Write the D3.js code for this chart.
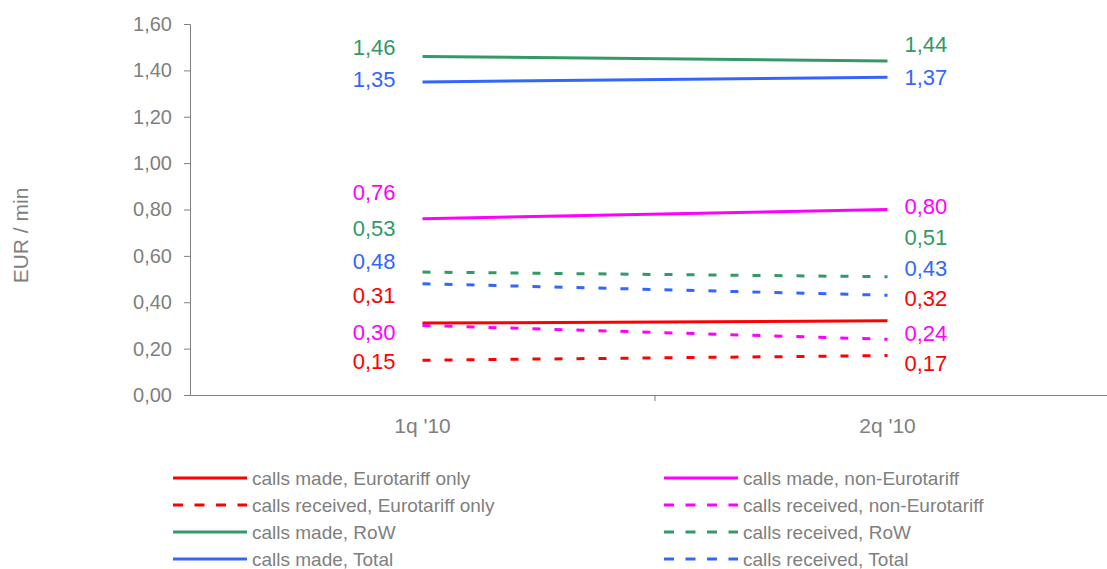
<!DOCTYPE html>
<html>
<head>
<meta charset="utf-8">
<title>EUR / min</title>
<script src="https://cdn.jsdelivr.net/npm/d3@7"></script>
<style>
  body { margin: 0; background: #fff; }
  svg text { font-family: "Liberation Sans", Arial, sans-serif; }
</style>
</head>
<body>
<div id="chart"></div>
<script>
// data
var quarters = ["1q '10", "2q '10"];
var yTicks = [0, 0.2, 0.4, 0.6, 0.8, 1.0, 1.2, 1.4, 1.6];

var madeEuro = [0.31, 0.32];
var recvEuro = [0.15, 0.17];
var madeRow = [1.46, 1.44];
var madeTotal = [1.35, 1.37];
var madeNonEuro = [0.76, 0.80];
var recvNonEuro = [0.30, 0.24];
var recvRow = [0.53, 0.51];
var recvTotal = [0.48, 0.43];

var series = [
  {name: "calls made, Eurotariff only", values: madeEuro, color: "#ff0000", dash: false, dy: [-28, -23]},
  {name: "calls received, Eurotariff only", values: recvEuro, color: "#ff0000", dash: true, dy: [1, 8]},
  {name: "calls made, RoW", values: madeRow, color: "#339966", dash: false, dy: [-9, -17]},
  {name: "calls made, Total", values: madeTotal, color: "#3366ff", dash: false, dy: [-3, 0]},
  {name: "calls made, non-Eurotariff", values: madeNonEuro, color: "#ff00ff", dash: false, dy: [-26, -3]},
  {name: "calls received, non-Eurotariff", values: recvNonEuro, color: "#ff00ff", dash: true, dy: [7, -6]},
  {name: "calls received, RoW", values: recvRow, color: "#339966", dash: true, dy: [-44, -39]},
  {name: "calls received, Total", values: recvTotal, color: "#3366ff", dash: true, dy: [-22, -27]}
];

var W = 1107, H = 569;
var svg = d3.select("#chart").append("svg").attr("width", W).attr("height", H);

var mLeft = 190, mRight = 1120, mTop = 24, mBottom = 395;
var grey = "#808080";

var x = d3.scaleBand().domain(quarters).range([mLeft, mRight]);
var y = d3.scaleLinear().domain([0, 1.6]).range([mBottom, mTop]);
var fmt = function(v) { return d3.format(".2f")(v).replace(".", ","); };

// y axis
var yAxis = svg.append("g").attr("transform", "translate(" + mLeft + ",0)")
  .call(d3.axisLeft(y).tickValues(yTicks).tickFormat(fmt).tickSize(6).tickPadding(12));
yAxis.selectAll("path, line").attr("stroke", grey);
yAxis.selectAll("text").attr("fill", grey).style("font-size", "20px");

// x axis
var xAxis = svg.append("g").attr("transform", "translate(0," + mBottom + ")")
  .call(d3.axisBottom(x).tickSize(0).tickPadding(23));
xAxis.select("path").attr("stroke", grey);
xAxis.selectAll("text").attr("fill", grey).style("font-size", "21px");
// tick between categories
svg.append("line")
  .attr("x1", x(quarters[1])).attr("x2", x(quarters[1]))
  .attr("y1", mBottom).attr("y2", mBottom + 6)
  .attr("stroke", grey);

svg.append("text")
  .attr("transform", "translate(28," + ((mTop + mBottom) / 2 + 26) + ") rotate(-90)")
  .attr("text-anchor", "middle")
  .attr("fill", grey).style("font-size", "21px")
  .text("EUR / min");

var cx = function(i) { return x(quarters[i]) + x.bandwidth() / 2; };
var line = d3.line().x(function(d, i) { return cx(i); }).y(function(d) { return y(d); });

series.forEach(function(s) {
  svg.append("path")
    .attr("d", line(s.values))
    .attr("fill", "none")
    .attr("stroke", s.color)
    .attr("stroke-width", 3)
    .attr("stroke-dasharray", s.dash ? "8,14" : null);

  s.values.forEach(function(v, i) {
    svg.append("text")
      .attr("x", i == 0 ? cx(i) - 27 : cx(i) + 17)
      .attr("y", y(v) + s.dy[i])
      .attr("dy", "0.35em")
      .attr("text-anchor", i == 0 ? "end" : "start")
      .attr("fill", s.color)
      .style("font-size", "22px")
      .text(fmt(v));
  });
});

// legend
var legend = svg.append("g");
series.forEach(function(s, k) {
  var col = Math.floor(k / 4), row = k % 4;
  var lx = col == 0 ? 173 : 664;
  var ly = 478 + row * 27;
  legend.append("line")
    .attr("x1", lx).attr("x2", lx + 74)
    .attr("y1", ly).attr("y2", ly)
    .attr("stroke", s.color).attr("stroke-width", 3)
    .attr("stroke-dasharray", s.dash ? "10,11.5" : null);
  legend.append("text")
    .attr("x", lx + 79).attr("y", ly)
    .attr("dy", "0.35em")
    .attr("fill", grey)
    .style("font-size", "19px")
    .text(s.name);
});
</script>
</body>
</html>
